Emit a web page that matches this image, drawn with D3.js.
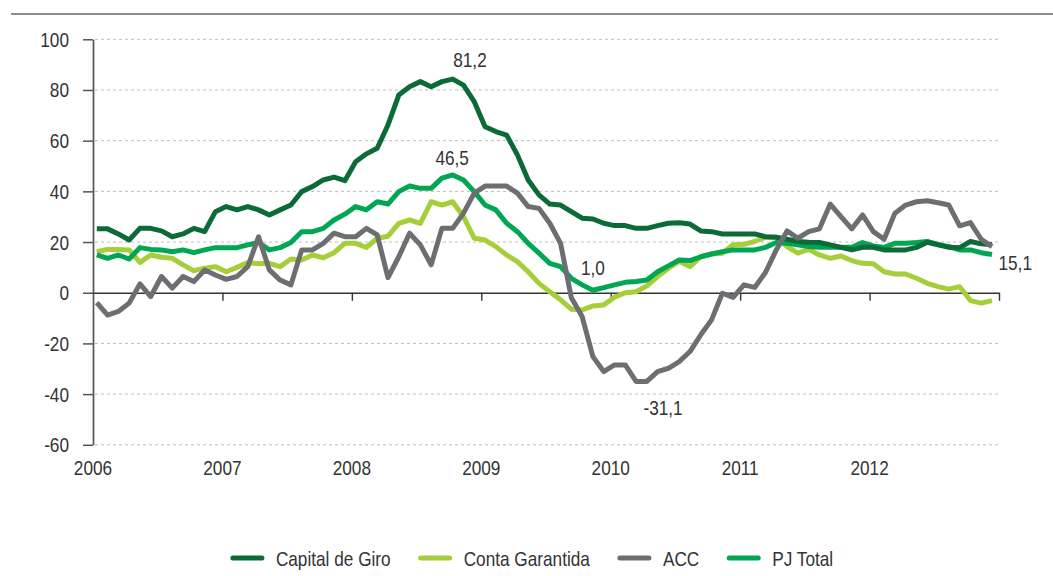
<!DOCTYPE html>
<html>
<head>
<meta charset="utf-8">
<script src="https://cdn.jsdelivr.net/npm/d3@7"></script>
<style>
  html, body { margin: 0; padding: 0; background: #fff; }
  svg { display: block; }
  text { font-family: "Liberation Sans", Arial, sans-serif; fill: #333; }
</style>
</head>
<body>
<svg id="chart" width="1053" height="576"></svg>
<script>
// Monthly series, Jan 2006 .. Dec 2012 (% change)
const years = ['2006', '2007', '2008', '2009', '2010', '2011', '2012'];

const capitalGiro = [
  25.2, 25.2, 23.2, 20.8, 25.4, 25.4, 24.4, 22.1, 23.2, 25.4, 24.1, 32.0,
  34.0, 32.7, 34.0, 32.7, 30.7, 32.7, 34.6, 39.9, 41.9, 44.5, 45.6, 44.2,
  51.7, 54.8, 57.0, 66.2, 78.0, 81.3, 83.3, 81.3, 83.3, 84.3, 81.9, 75.4,
  65.5, 63.6, 62.2, 54.4, 44.5, 38.6, 35.0, 34.6, 32.0, 29.4, 29.1, 27.4,
  26.5, 26.5, 25.4, 25.4, 26.5, 27.4, 27.6, 27.1, 24.4, 24.1, 23.2, 23.2,
  23.2, 23.2, 22.1, 21.9, 21.1, 20.2, 19.9, 19.8, 18.9, 17.9, 16.9, 17.9,
  17.9, 16.9, 16.9, 16.9, 17.9, 19.9, 18.9, 17.9, 17.8, 20.2, 19.3, 18.9
];

const contaGarantida = [
  16.2, 17.1, 17.1, 16.9, 12.0, 14.9, 14.0, 13.6, 11.0, 8.7, 9.7, 10.3,
  8.3, 10.0, 11.9, 11.4, 11.6, 10.3, 13.3, 12.9, 14.9, 13.8, 15.8, 19.5,
  19.5, 17.9, 21.5, 22.3, 27.4, 28.7, 27.4, 35.9, 34.6, 35.9, 30.0, 21.5,
  20.8, 18.2, 14.9, 12.3, 8.3, 3.7, 0.4, -2.8, -6.5, -6.8, -5.2, -4.8,
  -1.8, 0.0, 0.4, 2.7, 6.4, 9.7, 12.4, 10.3, 14.2, 15.3, 15.6, 18.9,
  19.1, 20.2, 21.9, 21.9, 18.2, 15.6, 17.1, 14.9, 13.6, 14.5, 12.7, 11.6,
  11.4, 8.3, 7.4, 7.4, 5.7, 3.7, 2.4, 1.4, 2.4, -3.1, -4.1, -3.1
];

const acc = [
  -3.9, -8.8, -7.4, -4.1, 3.5, -1.5, 6.4, 1.8, 6.4, 4.4, 9.0, 7.0,
  5.3, 6.4, 10.3, 22.1, 9.0, 5.0, 3.1, 16.9, 16.9, 19.5, 23.5, 22.1,
  22.1, 25.4, 22.8, 6.0, 14.2, 23.5, 18.9, 11.0, 25.4, 25.4, 31.4, 39.3,
  42.1, 42.1, 42.1, 39.3, 34.0, 33.3, 27.4, 19.5, -2.0, -9.4, -25.2, -31.1,
  -28.5, -28.5, -35.0, -35.0, -31.1, -29.8, -27.2, -23.2, -16.6, -10.7, -0.2, -1.8,
  3.1, 2.1, 8.0, 16.9, 24.4, 21.5, 24.1, 25.2, 35.0, 30.0, 25.2, 30.7,
  24.1, 21.1, 31.4, 34.6, 35.9, 36.3, 35.5, 34.6, 26.4, 27.7, 21.1, 18.2
];

const pjTotal = [
  14.9, 13.6, 14.9, 13.3, 17.8, 17.1, 16.9, 16.2, 16.9, 15.8, 16.9, 17.8,
  17.8, 17.8, 18.9, 19.8, 16.9, 17.8, 19.8, 24.1, 24.1, 25.4, 28.7, 31.0,
  34.0, 32.7, 35.9, 35.0, 39.9, 42.1, 41.2, 41.2, 45.2, 46.5, 44.5, 39.9,
  34.6, 32.7, 27.4, 24.1, 19.5, 15.6, 11.6, 10.3, 5.7, 3.1, 1.0, 2.0,
  3.1, 4.1, 4.4, 5.0, 8.3, 10.6, 12.9, 12.7, 14.2, 15.3, 16.2, 16.9,
  16.9, 16.9, 17.9, 19.8, 19.5, 18.9, 18.2, 17.9, 17.9, 17.9, 17.9, 19.8,
  18.5, 17.9, 19.5, 19.5, 19.8, 20.2, 19.1, 18.2, 16.9, 16.9, 15.8, 15.1
];

const seriesNames = ['Capital de Giro', 'Conta Garantida', 'ACC', 'PJ Total'];
const seriesColors = ['#0a6b36', '#a6ce39', '#6d6e71', '#00a651'];
const seriesValues = [capitalGiro, contaGarantida, acc, pjTotal];
// draw order: later ones on top
const drawOrder = [1, 3, 0, 2];

// value labels: text, month position, value position (data units)
const noteTexts = ['81,2', '46,5', '1,0', '-31,1', '15,1'];
const noteMonths = [34.6, 32.95, 46.0, 52.5, 83.6];
const noteValues = [89.1, 50.4, 7.0, -48.2, 9.0];
const noteAnchors = ['middle', 'middle', 'middle', 'middle', 'start'];

const yTicks = [100, 80, 60, 40, 20, 0, -20, -40, -60];

// narrow type: Arial metrics squeezed horizontally
const FONT_SIZE = 21;
const SX = 0.82;
const squeeze = (px, py) => `translate(${px},${py}) scale(${SX},1)`;

const svg = d3.select('#chart');

const x = d3.scaleLinear().domain([-0.35, 83.65]).range([93, 999]);
const y = d3.scaleLinear().domain([-60, 100]).range([444.8, 39.3]);

// top rule
svg.append('line')
  .attr('x1', 11).attr('x2', 1053)
  .attr('y1', 14).attr('y2', 14)
  .attr('stroke', '#666').attr('stroke-width', 1.6);

// dotted gridlines
svg.append('g')
  .selectAll('line')
  .data(yTicks.filter(d => d !== 0))
  .join('line')
  .attr('x1', x(-0.35) + 2).attr('x2', x(83.65))
  .attr('y1', d => y(d)).attr('y2', d => y(d))
  .attr('stroke', '#bdbdbd')
  .attr('stroke-width', 1)
  .attr('stroke-dasharray', '3,3');

// y axis (line + ticks), labels drawn separately
svg.append('g')
  .attr('transform', `translate(${x(-0.35)},0)`)
  .call(d3.axisLeft(y).tickValues(yTicks).tickSize(10).tickFormat('').tickSizeOuter(0))
  .call(g => g.select('.domain').attr('stroke', '#555').attr('stroke-width', 1.7))
  .call(g => g.selectAll('.tick line').attr('stroke', '#555').attr('stroke-width', 1.5));

svg.append('g')
  .selectAll('text')
  .data(yTicks)
  .join('text')
  .attr('transform', d => squeeze(x(-0.35) - 24, y(d) + 7.5))
  .attr('text-anchor', 'end')
  .attr('font-size', FONT_SIZE)
  .text(d => String(d));

// x axis along zero
const yearTicks = years.map((d, i) => i * 12 - 0.35).concat([83.65]);
svg.append('g')
  .attr('transform', `translate(0,${y(0)})`)
  .call(d3.axisBottom(x).tickValues(yearTicks.slice(1)).tickSize(8).tickFormat('').tickSizeOuter(0))
  .call(g => g.select('.domain').attr('stroke', '#333').attr('stroke-width', 1.4))
  .call(g => g.selectAll('.tick line').attr('stroke', '#333').attr('stroke-width', 1.4));

// year labels under the chart
svg.append('g')
  .selectAll('text')
  .data(years)
  .join('text')
  .attr('transform', (d, i) => squeeze(x(i * 12 - 0.35), 475))
  .attr('text-anchor', 'middle')
  .attr('font-size', FONT_SIZE)
  .text(d => d);

// lines
const line = d3.line()
  .x((d, i) => x(i))
  .y(d => y(d));

svg.append('g')
  .selectAll('path')
  .data(drawOrder)
  .join('path')
  .attr('d', k => line(seriesValues[k]))
  .attr('fill', 'none')
  .attr('stroke', k => seriesColors[k])
  .attr('stroke-width', 5)
  .attr('stroke-linejoin', 'round')
  .attr('stroke-linecap', 'butt');

// value labels
svg.append('g')
  .selectAll('text')
  .data(noteTexts)
  .join('text')
  .attr('transform', (d, i) => squeeze(x(noteMonths[i]), y(noteValues[i])))
  .attr('text-anchor', (d, i) => noteAnchors[i])
  .attr('font-size', FONT_SIZE)
  .text(d => d);

// legend
const legend = svg.append('g');
let lx = 0;
seriesNames.forEach((name, i) => {
  const item = legend.append('g').attr('transform', `translate(${lx},0)`);
  item.append('line')
    .attr('x1', 2).attr('x2', 31)
    .attr('y1', 0).attr('y2', 0)
    .attr('stroke', seriesColors[i])
    .attr('stroke-width', 5)
    .attr('stroke-linecap', 'round');
  const t = item.append('text')
    .attr('transform', squeeze(45, 7.5))
    .attr('font-size', FONT_SIZE)
    .text(name);
  lx += 45 + t.node().getComputedTextLength() * SX + 28;
});
const legendWidth = lx - 28;
legend.attr('transform', `translate(${532 - legendWidth / 2},558)`);
</script>
</body>
</html>
